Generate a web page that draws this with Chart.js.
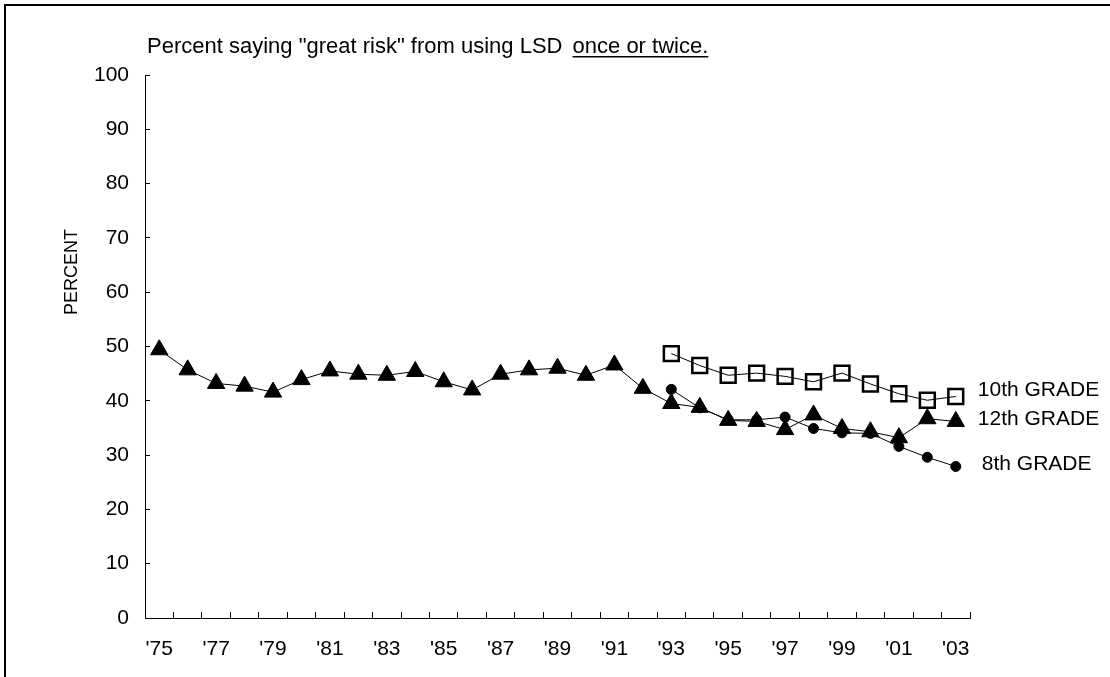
<!DOCTYPE html>
<html>
<head>
<meta charset="utf-8">
<script src="https://cdn.jsdelivr.net/npm/chart.js@4.4.1/dist/chart.umd.min.js"></script>
<style>
  html, body { margin: 0; padding: 0; background: #fff; }
  #wrap { position: relative; width: 1110px; height: 677px; overflow: hidden; }
  #frame { position: absolute; left: 4px; top: 4px; right: -10px; bottom: -10px;
           border-top: 2px solid #000; border-left: 2px solid #000; pointer-events: none; }
  canvas { display: block; }
</style>
</head>
<body>
<div id="wrap">
  <canvas id="chart-lsd" width="1110" height="677"></canvas>
  <div id="frame"></div>
</div>
<script>
/* Perceived risk of LSD, "great risk" from trying once or twice */

const years = ["'75", "'76", "'77", "'78", "'79", "'80", "'81", "'82", "'83", "'84",
               "'85", "'86", "'87", "'88", "'89", "'90", "'91", "'92", "'93", "'94",
               "'95", "'96", "'97", "'98", "'99", "'00", "'01", "'02", "'03"];

const grade12 = [49.4, 45.7, 43.2, 42.7, 41.6, 43.9, 45.5, 44.9, 44.7, 45.4,
                 43.5, 42.0, 44.9, 45.7, 46.0, 44.7, 46.6, 42.3, 39.5, 38.8,
                 36.4, 36.2, 34.7, 37.4, 34.9, 34.3, 33.2, 36.7, 36.2];

const grade10 = [null, null, null, null, null, null, null, null, null, null,
                 null, null, null, null, null, null, null, null, 48.7, 46.5,
                 44.7, 45.1, 44.5, 43.5, 45.1, 43.1, 41.3, 40.1, 40.8];

const grade8 = [null, null, null, null, null, null, null, null, null, null,
                null, null, null, null, null, null, null, null, 42.1, 38.7,
                36.5, 36.5, 37.0, 34.9, 34.1, 34.0, 31.6, 29.6, 27.9];

const seriesNames = ['12th GRADE', '10th GRADE', '8th GRADE'];
const titleParts = ['Percent saying "great risk" from using LSD ', 'once or twice.'];
const yAxisTitle = 'PERCENT';
const yMin = 0, yMax = 100, yStep = 10;

const FONT = '"Liberation Sans", Arial, sans-serif';

// title, y title and the series names at the end of each line
const textLayer = {
  id: 'textLayer',
  afterDraw(chart) {
    const { ctx, chartArea } = chart;
    ctx.save();
    ctx.fillStyle = '#000';

    ctx.font = '22px ' + FONT;
    ctx.textAlign = 'left';
    ctx.textBaseline = 'alphabetic';
    const tx = chartArea.left + 2;
    const ty = 53;
    ctx.fillText(titleParts[0], tx, ty);
    const ux = tx + ctx.measureText(titleParts[0]).width + 4;
    ctx.fillText(titleParts[1], ux, ty);
    ctx.fillRect(ux, ty + 3, ctx.measureText(titleParts[1]).width, 1.5);

    ctx.save();
    ctx.translate(72, 272);
    ctx.rotate(-Math.PI / 2);
    ctx.textAlign = 'center';
    ctx.textBaseline = 'middle';
    ctx.font = '18px ' + FONT;
    ctx.fillText(yAxisTitle, 0, 0);
    ctx.restore();

    ctx.font = '21px ' + FONT;
    ctx.textBaseline = 'middle';
    const dx = [22, 22, 26];
    const dy = [-2, -6, -2];
    chart.data.datasets.forEach((ds, i) => {
      const meta = chart.getDatasetMeta(i);
      const pt = meta.data[meta.data.length - 1];
      ctx.fillText(seriesNames[i], pt.x + dx[i], pt.y + dy[i]);
    });
    ctx.restore();
  }
};

const ctx = document.getElementById('chart-lsd');

new Chart(ctx, {
  type: 'line',
  data: {
    labels: years,
    datasets: [
      {
        label: seriesNames[0],
        data: grade12,
        borderColor: '#000',
        borderWidth: 1,
        pointStyle: 'triangle',
        pointRadius: 10,
        pointBackgroundColor: '#000',
        pointBorderColor: '#000',
        pointBorderWidth: 1
      },
      {
        label: seriesNames[1],
        data: grade10,
        borderColor: '#000',
        borderWidth: 1,
        pointStyle: 'rect',
        pointRadius: 10.5,
        pointBackgroundColor: 'rgba(0,0,0,0)',
        pointBorderColor: '#000',
        pointBorderWidth: 2.5
      },
      {
        label: seriesNames[2],
        data: grade8,
        borderColor: '#000',
        borderWidth: 1,
        pointStyle: 'circle',
        pointRadius: 5,
        pointBackgroundColor: '#000',
        pointBorderColor: '#000',
        pointBorderWidth: 1
      }
    ]
  },
  options: {
    responsive: false,
    animation: false,
    devicePixelRatio: 1,
    layout: { padding: { top: 75, right: 140, left: 0, bottom: 0 } },
    plugins: {
      legend: { display: false },
      tooltip: { enabled: false }
    },
    scales: {
      x: {
        type: 'category',
        offset: true,
        grid: {
          offset: true,
          drawOnChartArea: false,
          drawTicks: true,
          tickLength: -6,
          color: '#000'
        },
        border: { display: true, color: '#000', width: 1 },
        ticks: {
          autoSkip: false,
          maxRotation: 0,
          padding: 25,
          color: '#000',
          font: { family: FONT, size: 21 },
          callback: (v, i) => (i % 2 === 0 ? years[i] : '')
        },
        afterFit: (s) => { s.height = 59; }
      },
      y: {
        min: yMin,
        max: yMax,
        grid: {
          drawOnChartArea: false,
          drawTicks: true,
          tickLength: -5,
          color: '#000'
        },
        border: { display: true, color: '#000', width: 1 },
        ticks: {
          stepSize: yStep,
          padding: 21,
          color: '#000',
          font: { family: FONT, size: 21 }
        },
        afterFit: (s) => { s.width = 145; }
      }
    }
  },
  plugins: [textLayer]
});
</script>
</body>
</html>
